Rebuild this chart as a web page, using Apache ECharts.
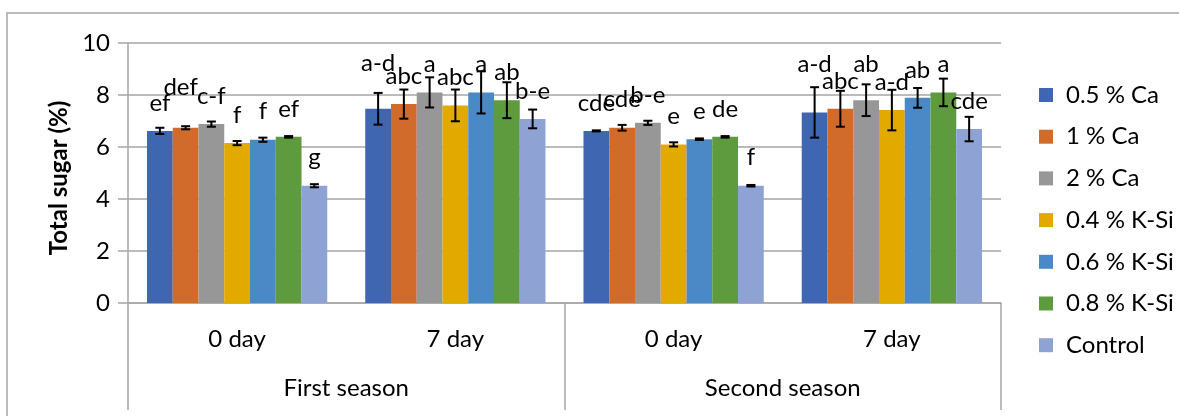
<!DOCTYPE html>
<html>
<head>
<meta charset="utf-8">
<script src="https://cdn.jsdelivr.net/npm/echarts@6/dist/echarts.min.js"></script>
<style>html,body{margin:0;padding:0;background:#fff;}#chart{width:1179px;height:416px;}</style>
</head>
<body>
<div id="chart"></div>
<script>
// ---- data ----
const dayLabels = ['0 day', '7 day', '0 day', '7 day'];
const seasons = ['First season', 'Second season'];
const treatments = ['0.5 % Ca', '1 % Ca', '2 % Ca', '0.4 % K-Si', '0.6 % K-Si', '0.8 % K-Si', 'Control'];
const yTitle = 'Total sugar (%)';

// mean total sugar (%) per group, in treatment order
const firstDay0 = [6.62, 6.74, 6.88, 6.15, 6.28, 6.39, 4.51];
const firstDay7 = [7.47, 7.65, 8.10, 7.60, 8.10, 7.80, 7.08];
const secondDay0 = [6.62, 6.74, 6.93, 6.10, 6.30, 6.39, 4.51];
const secondDay7 = [7.33, 7.47, 7.80, 7.42, 7.89, 8.10, 6.69];

// error bar half-lengths
const errFirstDay0 = [0.12, 0.06, 0.10, 0.08, 0.08, 0.03, 0.06];
const errFirstDay7 = [0.61, 0.56, 0.58, 0.61, 0.81, 0.69, 0.36];
const errSecondDay0 = [0.02, 0.11, 0.08, 0.08, 0.03, 0.03, 0.03];
const errSecondDay7 = [0.97, 0.69, 0.61, 0.78, 0.38, 0.53, 0.47];

// significance letters
const letFirstDay0 = ['ef', 'def', 'c-f', 'f', 'f', 'ef', 'g'];
const letFirstDay7 = ['a-d', 'abc', 'a', 'abc', 'a', 'ab', 'b-e'];
const letSecondDay0 = ['cde', 'cde', 'b-e', 'e', 'e', 'de', 'f'];
const letSecondDay7 = ['a-d', 'abc', 'ab', 'a-d', 'ab', 'a', 'cde'];

const yTicks = [0, 2, 4, 6, 8, 10];

// ---- style ----
const colors = ['#3F66B0', '#D06B2C', '#979797', '#E2AA00', '#4A89C5', '#5E9A3E', '#8EA3D4'];
const FONT = 'Lato';
const gridGray = '#a6a6a6';
const catGap = 0.174;
// extra label lift (px) for manually moved labels [group][treatment]
const labelLift = [
  [0, 12, 0, 0, 0, 0, 0],
  [18, 0, 0, 0, 0, 0, 0],
  [0, 0, 0, 0, 0, 0, 0],
  [20, 0, 8, 0, 0, 0, 0]
];
const labelShiftX = [
  [0, -5, 0, 0, 0, 0, 0],
  [0, 0, 0, 0, 0, 0, 0],
  [0, 0, 0, 0, 0, 0, 0],
  [0, 0, 0, 0, 0, 0, 0]
];

const means = [firstDay0, firstDay7, secondDay0, secondDay7];
const errs = [errFirstDay0, errFirstDay7, errSecondDay0, errSecondDay7];
const letters = [letFirstDay0, letFirstDay7, letSecondDay0, letSecondDay7];

const series = [];
treatments.forEach((name, k) => {
  series.push({
    name: name,
    type: 'bar',
    barGap: '0%',
    barCategoryGap: (catGap * 100) + '%',
    itemStyle: { color: colors[k] },
    z: 2,
    data: means.map((g, gi) => ({
      value: g[k],
      label: {
        show: true,
        position: 'top',
        distance: 16 + labelLift[gi][k],
        offset: [labelShiftX[gi][k], 0],
        formatter: letters[gi][k],
        fontFamily: FONT,
        fontSize: 24,
        color: '#000'
      }
    }))
  });
});
treatments.forEach((name, k) => {
  series.push({
    name: name + ' error',
    type: 'custom',
    z: 5,
    silent: true,
    renderItem: function (params, api) {
      const ci = api.value(0), v = api.value(1), e = api.value(2);
      const c = api.coord([ci, v]);
      const catW = api.size([1, 0])[0];
      const bw = catW * (1 - catGap) / treatments.length;
      const x = c[0] + (k - (treatments.length - 1) / 2) * bw;
      const yHi = api.coord([ci, v + e])[1];
      const yLo = api.coord([ci, v - e])[1];
      const cap = 4.5;
      const st = { stroke: '#000', lineWidth: 2 };
      return {
        type: 'group',
        children: [
          { type: 'line', shape: { x1: x, y1: yHi, x2: x, y2: yLo }, style: st },
          { type: 'line', shape: { x1: x - cap, y1: yHi, x2: x + cap, y2: yHi }, style: st },
          { type: 'line', shape: { x1: x - cap, y1: yLo, x2: x + cap, y2: yLo }, style: st }
        ]
      };
    },
    data: means.map((g, gi) => [gi, g[k], errs[gi][k]])
  });
});

const chart = echarts.init(document.getElementById('chart'), null, { renderer: 'canvas' });
chart.setOption({
  animation: false,
  backgroundColor: '#fff',
  textStyle: { fontFamily: FONT },
  graphic: [{
    type: 'rect',
    shape: { x: 7, y: 13, width: 1200, height: 500 },
    style: { fill: null, stroke: gridGray, lineWidth: 1.5 },
    silent: true,
    z: -1
  }, {
    type: 'text',
    x: 59,
    y: 178,
    rotation: Math.PI / 2,
    silent: true,
    style: {
      text: yTitle,
      fontFamily: FONT,
      fontSize: 24,
      fontWeight: 'bold',
      fill: '#000',
      align: 'center',
      verticalAlign: 'middle'
    }
  }],
  grid: { left: 128, right: 178, top: 43, bottom: 113, containLabel: false },
  legend: {
    data: treatments,
    orient: 'vertical',
    left: 1039,
    top: 83,
    itemWidth: 14,
    itemHeight: 14,
    itemGap: 17.7,
    icon: 'rect',
    padding: 0,
    textStyle: { fontFamily: FONT, fontSize: 24, color: '#000', lineHeight: 24, padding: [0, 0, 0, 8] }
  },
  xAxis: [{
    type: 'category',
    data: dayLabels,
    position: 'bottom',
    axisLine: { show: true, lineStyle: { color: gridGray, width: 1.5 } },
    axisTick: { show: false },
    axisLabel: { margin: 24, fontFamily: FONT, fontSize: 24, color: '#000' }
  }, {
    type: 'category',
    data: seasons,
    position: 'bottom',
    axisLine: { show: false },
    axisTick: { show: true, length: 107, lineStyle: { color: gridGray, width: 1.5 } },
    axisLabel: { margin: 73, fontFamily: FONT, fontSize: 24, color: '#000' }
  }],
  yAxis: {
    type: 'value',
    min: yTicks[0],
    max: yTicks[yTicks.length - 1],
    interval: yTicks[1] - yTicks[0],
    axisLine: { show: true, lineStyle: { color: gridGray, width: 1.5 } },
    axisTick: { show: true, length: 10, lineStyle: { color: gridGray, width: 1.5 } },
    axisLabel: { margin: 18, fontFamily: FONT, fontSize: 24, color: '#000' },
    splitLine: { show: true, lineStyle: { color: gridGray, width: 1.5 } }
  },
  series: series
});
</script>
</body>
</html>
